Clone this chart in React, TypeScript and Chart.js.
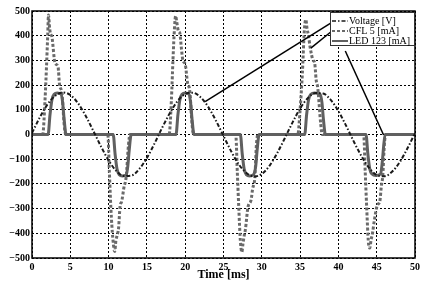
import React, { useEffect, useRef } from "react";
import { Chart, registerables } from "chart.js";

Chart.register(...registerables);

// ---- data ----
const seriesLabels = ["Voltage [V]", "CFL 5 [mA]", "LED 123 [mA]"];

const voltTime = [
  0, 1, 2, 3, 4, 5, 6, 7, 8, 9, 10, 11, 12, 13, 14, 15, 16, 17, 18, 19, 20, 21, 22, 23, 24, 25,
  26, 27, 28, 29, 30, 31, 32, 33, 34, 35, 36, 37, 38, 39, 40, 41, 42, 43, 44, 45, 46, 47, 48, 49, 50,
];
const voltValue = [
  6, 68, 121, 156, 170, 160, 127, 76, 15, -48, -105, -147, -168, -166, -140, -95, -36, 28, 87, 135,
  164, 169, 151, 112, 57, -6, -68, -121, -156, -170, -160, -127, -76, -15, 48, 105, 147, 168, 166,
  140, 95, 36, -28, -87, -135, -164, -169, -151, -112, -57, 6,
];

const cflTime = [
  0, 1.4, 1.7, 1.9, 2.05, 2.15, 2.3, 2.4, 2.6, 3.0, 3.4, 3.6, 3.9, 4.2, 4.4,
  9.9, 10.1, 10.3, 10.55, 10.8, 10.95, 11.1, 11.3, 11.5, 11.7, 12.0, 12.3, 12.6, 12.8,
  17.9, 18.2, 18.4, 18.6, 18.75, 18.9, 19.1, 19.3, 19.5, 19.7, 20.0, 20.3, 20.6, 20.9, 21.1,
  26.6, 26.8, 27.0, 27.2, 27.4, 27.55, 27.7, 27.85, 28.2, 28.6, 28.8, 29.1, 29.3, 29.5,
  34.7, 35.0, 35.3, 35.55, 35.75, 35.9, 36.1, 36.3, 36.7, 36.9, 37.1, 37.3, 37.7, 37.9,
  43.3, 43.5, 43.7, 43.9, 44.1, 44.25, 44.45, 44.7, 45.1, 45.4, 45.6, 45.8, 46.0, 46.2, 50,
];
const cflValue = [
  0, 0, 140, 280, 400, 484, 430, 410, 396, 290, 274, 200, 170, 40, 0,
  0, -150, -300, -420, -474, -430, -410, -380, -290, -272, -215, -170, -40, 0,
  0, 140, 300, 430, 480, 455, 420, 410, 350, 300, 285, 210, 175, 40, 0,
  0, -150, -300, -430, -476, -440, -410, -387, -293, -265, -220, -171, -40, 0,
  0, 100, 250, 420, 465, 430, 400, 355, 300, 290, 220, 190, 40, 0,
  0, -150, -300, -430, -460, -430, -400, -346, -285, -272, -211, -164, -40, 0, 0,
];

const ledTime = [
  0, 2.1, 2.35, 2.6, 2.9, 3.3, 3.8, 4.0, 4.2, 4.45,
  10.6, 10.85, 11.1, 11.4, 11.8, 12.3, 12.5, 12.7, 12.95,
  18.8, 19.05, 19.3, 19.6, 20.0, 20.5, 20.7, 20.9, 21.15,
  27.2, 27.45, 27.7, 28.0, 28.4, 28.9, 29.2, 29.4, 29.65,
  35.6, 35.85, 36.1, 36.4, 36.9, 37.6, 37.85, 38.05, 38.3,
  43.6, 43.85, 44.1, 44.4, 44.9, 45.5, 45.7, 45.9, 46.1, 50,
];
const ledValue = [
  0, 0, 80, 140, 163, 168, 163, 130, 60, 0,
  0, -80, -140, -163, -168, -163, -130, -60, 0,
  0, 80, 140, 163, 168, 163, 130, 60, 0,
  0, -80, -140, -163, -168, -163, -130, -60, 0,
  0, 80, 140, 163, 168, 163, 130, 60, 0,
  0, -80, -140, -160, -166, -160, -120, -50, 0, 0,
];

// callout lines from the legend to each curve (data units)
const calloutFromX = [39.2, 39.0, 40.9];
const calloutFromY = [455, 415, 338];
const calloutToX = [22.6, 36.4, 45.9];
const calloutToY = [133, 350, -2];

const xTicks = [0, 5, 10, 15, 20, 25, 30, 35, 40, 45, 50];
const yTicks = [-500, -400, -300, -200, -100, 0, 100, 200, 300, 400, 500];
const xTitle = "Time [ms]";

// ---- styles ----
const SERIF = '"Liberation Serif", "Times New Roman", serif';
const seriesStyles = [
  { color: "#1a1a1a", width: 2, dash: [4, 2, 1.5, 2] },
  { color: "#6a6a6a", width: 3, dash: [3, 2] },
  { color: "#606060", width: 3, dash: [] as number[] },
];

const toPoints = (t: number[], v: number[]) => t.map((x, i) => ({ x, y: v[i] }));

const framePlugin = {
  id: "frameAndLegend",
  afterDraw(chart: any) {
    const { ctx, chartArea } = chart;
    const { left, right, top, bottom } = chartArea;
    ctx.save();
    // plot frame
    ctx.strokeStyle = "#000";
    ctx.lineWidth = 1.5;
    ctx.setLineDash([]);
    ctx.strokeRect(left, top, right - left, bottom - top);

    // legend box
    const boxW = 85;
    const boxH = 34;
    const boxL = right - boxW;
    const boxT = top + 1;
    ctx.fillStyle = "#fff";
    ctx.fillRect(boxL, boxT, boxW, boxH);
    ctx.strokeStyle = "#333";
    ctx.lineWidth = 1;
    ctx.strokeRect(boxL + 0.5, boxT + 0.5, boxW - 1, boxH - 1);
    ctx.font = `10px ${SERIF}`;
    ctx.textBaseline = "middle";
    ctx.textAlign = "left";
    seriesLabels.forEach((label, i) => {
      const st = seriesStyles[i];
      const y = boxT + 9 + i * 10;
      ctx.beginPath();
      ctx.strokeStyle = st.color;
      ctx.lineWidth = i === 0 ? 1.5 : 2;
      ctx.setLineDash(st.dash);
      ctx.moveTo(boxL + 2, y);
      ctx.lineTo(boxL + 18, y);
      ctx.stroke();
      ctx.setLineDash([]);
      ctx.fillStyle = "#000";
      ctx.fillText(label, boxL + 19, y + 0.5);
    });
    ctx.restore();
  },
};

export default function App() {
  const canvasRef = useRef<HTMLCanvasElement | null>(null);

  useEffect(() => {
    const canvas = canvasRef.current;
    if (!canvas) return;

    const callouts = calloutFromX.map((fx, i) => ({
      label: "callout" + i,
      data: [
        { x: fx, y: calloutFromY[i] },
        { x: calloutToX[i], y: calloutToY[i] },
      ],
      borderColor: "#000",
      borderWidth: 1.5,
      pointRadius: 0,
      tension: 0,
      fill: false,
    }));

    const seriesData = [
      toPoints(voltTime, voltValue),
      toPoints(cflTime, cflValue),
      toPoints(ledTime, ledValue),
    ];

    const mk = (i: number) => ({
      label: seriesLabels[i],
      data: seriesData[i],
      borderColor: seriesStyles[i].color,
      borderWidth: seriesStyles[i].width,
      borderDash: seriesStyles[i].dash,
      borderCapStyle: "butt",
      pointRadius: 0,
      cubicInterpolationMode: "monotone",
      fill: false,
    });

    const chart = new Chart(canvas, {
      type: "line",
      data: {
        datasets: [...callouts, mk(0), mk(2), mk(1)] as any,
      },
      options: {
        animation: false,
        responsive: false,
        devicePixelRatio: 1,
        layout: { padding: { top: 11, right: 23, left: 0, bottom: 0 } },
        plugins: { legend: { display: false }, tooltip: { enabled: false } },
        elements: { point: { radius: 0 } },
        scales: {
          x: {
            type: "linear",
            min: 0,
            max: 50,
            afterBuildTicks: (s: any) => {
              s.ticks = xTicks.map((v) => ({ value: v }));
            },
            afterFit: (s: any) => {
              s.height = 27;
            },
            grid: { color: "#000", lineWidth: 1, drawTicks: false },
            border: { display: false, dash: [2, 2] },
            ticks: {
              padding: 3,
              color: "#000",
              autoSkip: false,
              maxRotation: 0,
              font: { family: SERIF, size: 10, weight: "bold" },
            },
            title: {
              display: true,
              text: xTitle,
              color: "#000",
              font: { family: SERIF, size: 12, weight: "bold" },
              padding: { top: 0, bottom: 3 },
            },
          },
          y: {
            type: "linear",
            min: -500,
            max: 500,
            afterBuildTicks: (s: any) => {
              s.ticks = yTicks.map((v) => ({ value: v }));
            },
            afterFit: (s: any) => {
              s.width = 32;
            },
            grid: { color: "#000", lineWidth: 1, drawTicks: false },
            border: { display: false, dash: [2, 2] },
            ticks: {
              padding: 2,
              color: "#000",
              autoSkip: false,
              font: { family: SERIF, size: 10, weight: "bold" },
              callback: (v: any) => String(v).replace("-", "\u2212"),
            },
          },
        },
      } as any,
      plugins: [framePlugin],
    });

    return () => chart.destroy();
  }, []);

  return (
    <div style={{ position: "fixed", left: 0, top: 0, width: 438, height: 285, background: "#fff" }}>
      <canvas ref={canvasRef} width={438} height={285} style={{ width: 438, height: 285 }} />
    </div>
  );
}
